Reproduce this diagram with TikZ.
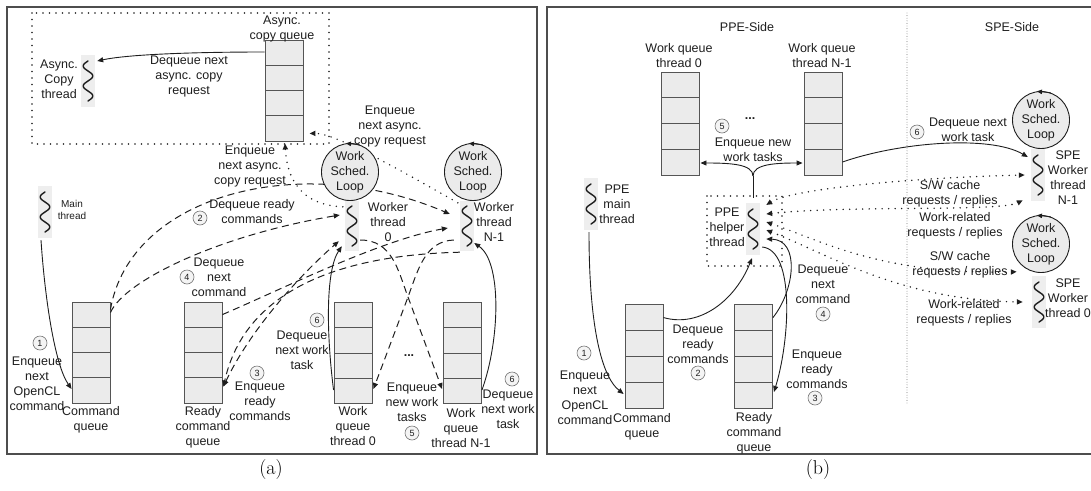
\documentclass[tikz,border=0pt]{standalone}
\usepackage{fontspec}
\newfontfamily\diagfont{Liberation Sans}
\usetikzlibrary{arrows.meta,calc}

\definecolor{framegray}{HTML}{4D4D4D}
\definecolor{qfill}{HTML}{EBEBEB}
\definecolor{qdraw}{HTML}{555555}
\definecolor{thbg}{HTML}{EEEEEE}
\definecolor{loopfill}{HTML}{EBEBEB}
\definecolor{numfill}{HTML}{F4F4F4}
\definecolor{ink}{HTML}{1E1E1E}

\newcommand{\lbfont}{\diagfont\fontsize{12.5}{15}\selectfont}
\newcommand{\smfont}{\diagfont\fontsize{10}{12}\selectfont}
\newcommand{\numfont}{\diagfont\fontsize{9}{9}\selectfont}

\tikzset{
  frame/.style={framegray, line width=1.1pt},
  lbl/.style={align=center, inner sep=0pt, text=ink, font=\lbfont},
  smlbl/.style={align=center, inner sep=0pt, text=ink, font=\smfont},
  subcap/.style={inner sep=0pt, text=black, font=\fontsize{20}{20}\selectfont},
  queue/.style={draw=qdraw, fill=qfill, line width=0.9pt, minimum width=38pt,
    minimum height=101pt, inner sep=0pt,
    path picture={
      \foreach \f in {0.25,0.5,0.75}
        \draw[qdraw, line width=0.9pt]
          ($(path picture bounding box.north west)!\f!(path picture bounding box.south west)$) --
          ($(path picture bounding box.north east)!\f!(path picture bounding box.south east)$);
    }},
  thread/.style={fill=thbg, minimum width=14pt, minimum height=52pt, inner sep=0pt,
    path picture={
      \draw[ink, line width=1.4pt, line cap=round, shift={(path picture bounding box.center)}]
        plot[domain=-20:20, samples=61, smooth, variable=\t] ({-4.8*sin(\t*18)}, \t);
    }},
  num/.style={circle, draw=black!55, fill=numfill, line width=0.6pt, minimum size=14pt,
    inner sep=0pt, font=\numfont, text=ink},
  loopc/.style={circle, draw=ink, fill=loopfill, line width=0.9pt, minimum size=48pt,
    inner sep=0pt, align=center, font=\lbfont, text=ink},
  tip/.style={-{Triangle[length=6pt,width=5pt]}},
  tips2/.style={{Triangle[length=6pt,width=5pt]}-{Triangle[length=6pt,width=5pt]}},
  solidarr/.style={ink, line width=0.9pt, tip},
  dasharr/.style={ink, line width=1pt, dash pattern=on 7pt off 4.5pt, tip},
  dotarr/.style={ink, line width=1.6pt, line cap=round, dash pattern=on 0pt off 6.5pt, tip},
  dotbox/.style={ink, line width=1.6pt, line cap=round, dash pattern=on 0pt off 6.5pt},
  divider/.style={black!65, line width=0.9pt, line cap=round, dash pattern=on 0pt off 2.6pt},
  looparr/.style={ink, line width=0.8pt, -{Triangle[length=5pt,width=4.5pt]}},
}

\begin{document}
\begin{tikzpicture}[x=1pt,y=-1pt]
\useasboundingbox (0,0) rectangle (1091,490);

% panel frames
\draw[frame] (7,7) rectangle (537,454);
\draw[frame] (1110,7) -- (547,7) -- (547,454) -- (1110,454);

%%%%%%%%%%%%%%%% panel (a): host-side runtime threads
\draw[dotbox] (32,13) rectangle (329,144);

\node[queue] (acq) at (284,90.5) {};
\node[thread] (act) at (88,81) {};
\node[thread] (mt) at (45,212) {};
\node[queue] (cq) at (91,352.5) {};
\node[queue] (rq) at (203,352.5) {};
\node[queue] (wq0) at (353,353) {};
\node[queue] (wqN) at (462.5,353) {};
\node[thread, minimum height=50pt] (w0) at (352,226) {};
\node[thread, minimum height=50pt] (wN) at (467,226) {};

% async copy queue -> async copy thread
\draw[solidarr] ($(acq.west)+(0,-38.5)$) .. controls (200,52) and (130,54) .. ($(act.east)+(2,-20)$);
% main thread -> command queue
\draw[solidarr] ($(mt.south)+(-4,2)$) .. controls (45,300) and (55,365) .. ($(cq.west)+(0,36.5)$);
% command queue -> worker threads
\draw[dasharr] ($(cq.north east)+(0,8)$) .. controls (130,195) and (300,150) .. ($(wN.west)+(-10,-12)$);
\draw[dasharr] ($(cq.north east)+(0,11)$) .. controls (125,280) and (220,235) .. ($(w0.west)+(-5,-11)$);
% ready queue <-> worker threads
\draw[dasharr] ($(rq.north east)+(0,13)$) .. controls (280,290) and (380,240) .. ($(wN.west)+(-12,2)$);
\draw[dasharr, tips2] ($(rq.east)+(1,34)$) .. controls (250,330) and (300,275) .. ($(w0.south west)+(-6,-10)$);
\draw[dasharr] ($(wN.south west)+(0,1)$) .. controls (340,255) and (245,290) .. ($(rq.east)+(1,34)$);
% workers -> work queues (crossing)
\draw[dasharr] ($(w0.east)+(1,14)$) .. controls (392,240) and (398,270) .. (408,297) -- ($(wqN.west)+(-1,36)$);
\draw[dasharr] ($(wN.west)+(-6,14)$) .. controls (425,241) and (418,270) .. (408,297) -- ($(wq0.east)+(1,36)$);
% work queues -> workers
\draw[solidarr] ($(wq0.west)+(0,37)$) .. controls (326,330) and (326,270) .. ($(w0.south west)+(-3,-5)$);
\draw[solidarr] ($(wqN.east)+(0,37)$) .. controls (500,340) and (502,262) .. ($(wN.east)+(0,17)$);
% workers -> async copy queue
\draw[dotarr] ($(w0.north west)+(-2,6)$) .. controls (300,205) and (287,178) .. ($(acq.south)+(1,2)$);
\draw[dotarr] ($(wN.north west)+(-2,2)$) .. controls (400,170) and (335,133) .. ($(acq.south east)+(6,-8)$);

% scheduling loops
\node[loopc] (lsA) at (350,172) {Work\\Sched.\\Loop};
\node[loopc] (lsB) at (473,172) {Work\\Sched.\\Loop};
\draw[looparr] (lsA.70) -- (lsA.98);
\draw[looparr] (lsB.70) -- (lsB.98);

% labels (a)
\node[lbl] (tAcq) at (282,29) {Async.\\copy queue};
\node[lbl] (tAct) at (59,79) {Async.\\Copy\\thread};
\node[lbl] (tDqA) at (189,76) {Dequeue next\\async. copy\\request};
\node[smlbl] (tMt) at (72,210) {Main\\thread};
\node[lbl] (tCq) at (91,420) {Command\\queue};
\node[lbl] (tRq) at (203,427) {Ready\\command\\queue};
\node[lbl] (tWq0) at (353,426) {Work\\queue\\thread 0};
\node[lbl] (tWqN) at (461,428) {Work\\queue\\thread N-1};
\node[lbl] (tW0) at (388,222) {Worker\\thread\\0};
\node[lbl] (tWN) at (494,222) {Worker\\thread\\N-1};
\node[lbl] (tEqA1) at (250,166) {Enqueue\\next async.\\copy request};
\node[lbl] (tEqA2) at (390,126) {Enqueue\\next async.\\copy request};
\node[num] (nA2) at (200,218) {2};
\node[lbl] (tA2) at (252,212) {Dequeue ready\\commands};
\node[num] (nA4) at (187,277) {4};
\node[lbl] (tA4) at (219,277) {Dequeue\\next\\command};
\node[num] (nA3) at (257,373) {3};
\node[lbl] (tA3) at (260,401) {Enqueue\\ready\\commands};
\node[num] (nA1) at (40,343) {1};
\node[lbl] (tA1) at (37,384) {Enqueue\\next\\OpenCL\\command};
\node[num] (nA6a) at (317,320) {6};
\node[lbl] (tA6a) at (302,350) {Dequeue\\next work\\task};
\node[num] (nA6b) at (512,379) {6};
\node[lbl] (tA6b) at (508,409) {Dequeue\\next work\\task};
\node[lbl, font={\lbfont\bfseries}] (dotsA) at (409,356) {...};
\node[lbl] (tA5) at (412,402) {Enqueue\\new work\\tasks};
\node[num] (nA5) at (412,433) {5};

%%%%%%%%%%%%%%%% panel (b): PPE / SPE split
\draw[divider] (907,13) -- (907,405);
\node[lbl] (ppeside) at (747,27) {PPE-Side};
\node[lbl] (speside) at (1012,27) {SPE-Side};

\node[queue, minimum height=103pt] (bq0) at (680,123.5) {};
\node[queue, minimum height=103pt] (bqN) at (823,123.5) {};
\node[thread] (pmt) at (591,204) {};
\draw[dotbox] (707,196) rectangle (782,266);
\node[thread] (pht) at (753,229) {};
\node[thread] (bsN) at (1038,175) {};
\node[thread] (bs0) at (1039,302) {};
\node[queue, minimum height=104pt] (bcq) at (644,356) {};
\node[queue, minimum height=104pt] (brq) at (753.5,356) {};
\coordinate (fork) at (753,176);

% helper thread -> work queues
\draw[ink, line width=0.9pt] ($(pht.north)+(0,-5)$) -- (fork);
\draw[solidarr] (fork) .. controls (753,164) and (730,163) .. ($(bq0.east)+(1,39.5)$);
\draw[solidarr] (fork) .. controls (753,164) and (776,163) .. ($(bqN.west)+(-1,39.5)$);
% work queue -> SPE worker
\draw[solidarr] ($(bqN.east)+(0,38.5)$) .. controls (900,142) and (990,135) .. ($(bsN.west)+(-3,-18)$);
% command flow on the PPE
\draw[solidarr] ($(pmt.south)+(-2,2)$) .. controls (589,320) and (600,375) .. ($(bcq.west)+(-1,38)$);
\draw[solidarr] ($(bcq.north east)+(0,14)$) .. controls (700,328) and (735,300) .. ($(pht.south)+(-1,3)$);
\draw[solidarr] ($(brq.north east)+(0,14)$) .. controls (795,290) and (800,240) .. ($(pht.east)+(6,10)$);
\draw[solidarr] ($(pht.east)+(2,18)$) .. controls (795,250) and (790,340) .. ($(brq.east)+(1,36)$);
% requests / replies between helper and SPE workers
\draw[dotarr, tips2] ($(pht.east)+(6,-24)$) .. controls (790,190) and (900,178) .. ($(bsN.west)+(-6,0)$);
\draw[dotarr, tips2] ($(pht.east)+(6,-15)$) .. controls (850,205) and (1000,212) .. ($(bsN.south west)+(-8,-1)$);
\draw[dotarr, tips2] ($(pht.east)+(6,-7)$) .. controls (820,240) and (880,275) .. ($(bs0.north west)+(-15,-4)$);
\draw[dotarr, tips2] ($(pht.east)+(6,1)$) .. controls (830,255) and (900,300) .. ($(bs0.west)+(-9,0)$);

\node[loopc, minimum size=46pt] (lsC) at (1041,120) {Work\\Sched.\\Loop};
\node[loopc] (lsD) at (1041,244) {Work\\Sched.\\Loop};
\draw[looparr] (lsC.70) -- (lsC.98);
\draw[looparr] (lsD.70) -- (lsD.98);

% labels (b)
\node[lbl] (tBq0) at (679,56) {Work queue\\thread 0};
\node[lbl] (tBqN) at (822,56) {Work queue\\thread N-1};
\node[num] (nB5) at (722,126) {5};
\node[lbl, font={\lbfont\bfseries}] (dotsB) at (750,119) {...};
\node[lbl] (tB5) at (753,150) {Enqueue new\\work tasks};
\node[lbl] (tPmt) at (617,204) {PPE\\main\\thread};
\node[lbl] (tPht) at (727,227) {PPE\\helper\\thread};
\node[lbl] (tBsN) at (1068,178) {SPE\\Worker\\thread\\N-1};
\node[lbl] (tBs0) at (1068,298) {SPE\\Worker\\thread 0};
\node[num] (nB6) at (917,132) {6};
\node[lbl] (tB6) at (968,130) {Dequeue next\\work task};
\node[lbl] (tR1) at (950,194) {S/W cache\\requests / replies};
\node[lbl] (tR2) at (955,226) {Work-related\\requests / replies};
\node[lbl] (tR3) at (960,265) {S/W cache\\requests / replies};
\node[lbl] (tR4) at (964,313) {Work-related\\requests / replies};
\node[lbl] (tBcq) at (642,427) {Command\\queue};
\node[lbl] (tBrq) at (754,433) {Ready\\command\\queue};
\node[num] (nB1) at (584,353) {1};
\node[lbl] (tB1) at (585,398) {Enqueue\\next\\OpenCL\\command};
\node[num] (nB2) at (698,373) {2};
\node[lbl] (tB2) at (698,344) {Dequeue\\ready\\commands};
\node[num] (nB4) at (823,314) {4};
\node[lbl] (tB4) at (823,284) {Dequeue\\next\\command};
\node[num] (nB3) at (815,398) {3};
\node[lbl] (tB3) at (817,369) {Enqueue\\ready\\commands};

% sub-figure captions
\node[subcap] (capA) at (271,470) {(a)};
\node[subcap] (capB) at (818,470) {(b)};
\end{tikzpicture}
\end{document}
